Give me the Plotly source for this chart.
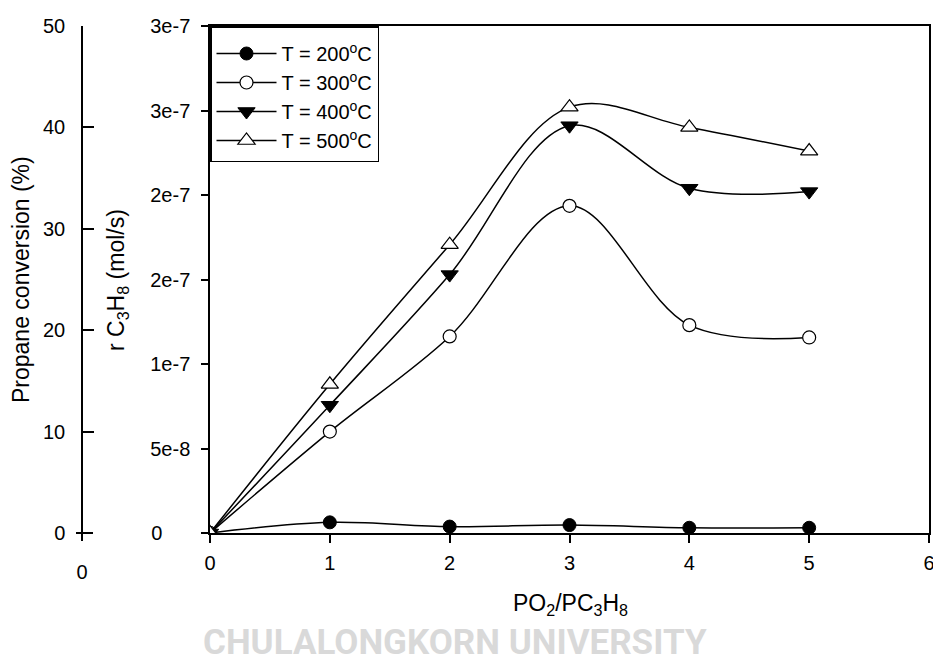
import plotly.graph_objects as go

# PO2/PC3H8 feed ratio
ratio = [0, 1, 2, 3, 4, 5]

# Propane consumption rate r C3H8 (mol/s) at each temperature
rate_200 = [0.0, 6.3e-9, 3.8e-9, 4.7e-9, 3.1e-9, 3.1e-9]
rate_300 = [0.0, 6.0e-8, 1.163e-7, 1.936e-7, 1.23e-7, 1.157e-7]
rate_400 = [0.0, 7.56e-8, 1.529e-7, 2.41e-7, 2.04e-7, 2.02e-7]
rate_500 = [0.0, 8.8e-8, 1.706e-7, 2.52e-7, 2.40e-7, 2.26e-7]

series_names = ["T = 200<sup>o</sup>C", "T = 300<sup>o</sup>C",
                "T = 400<sup>o</sup>C", "T = 500<sup>o</sup>C"]

# Rate axis ticks (labels rounded to one significant figure, left aligned)
rate_tickvals = [0, 5e-8, 1e-7, 1.5e-7, 2e-7, 2.5e-7, 3e-7]
rate_ticktext = ["0\u00a0\u00a0\u00a0\u00a0\u00a0", "5e-8", "1e-7", "2e-7", "2e-7", "3e-7", "3e-7"]

# Conversion axis ticks
conv_tickvals = [0, 10, 20, 30, 40, 50]

x_tickvals = [0, 1, 2, 3, 4, 5, 6]

W, H = 933, 654
FONT = "Liberation Sans, Arial, sans-serif"


def px_x(p):
    return p / W


def px_y(p):
    return 1 - p / H


styles = [
    dict(symbol="circle", color="black", line=dict(color="black", width=1), size=13),
    dict(symbol="circle", color="white", line=dict(color="black", width=1.2), size=13),
    dict(symbol="triangle-down", color="black", line=dict(color="black", width=1), size=15),
    dict(symbol="triangle-up", color="white", line=dict(color="black", width=1.2), size=15),
]

fig = go.Figure()
for name, vals, mk in zip(series_names, [rate_200, rate_300, rate_400, rate_500], styles):
    fig.add_trace(go.Scatter(
        x=ratio, y=vals, name=name, mode="lines+markers",
        line=dict(color="black", width=1.5, shape="spline", smoothing=1.0),
        marker=mk, xaxis="x", yaxis="y",
    ))

# invisible trace so the conversion axis is rendered
fig.add_trace(go.Scatter(x=[None], y=[None], xaxis="x", yaxis="y2",
                         showlegend=False, hoverinfo="skip"))
# short companion x-axis under the conversion axis
fig.add_trace(go.Scatter(x=[None], y=[None], xaxis="x2", yaxis="y2",
                         showlegend=False, hoverinfo="skip"))

tick_font = dict(family=FONT, size=20, color="black")

fig.update_layout(
    width=W, height=H,
    margin=dict(l=0, r=0, t=0, b=0, pad=0, autoexpand=False),
    paper_bgcolor="white", plot_bgcolor="white",
    showlegend=True,
    legend=dict(
        x=px_x(210), y=px_y(26), xanchor="left", yanchor="top",
        bgcolor="white", bordercolor="black", borderwidth=1.5,
        font=dict(family=FONT, size=20, color="black"),
        itemwidth=60, tracegroupgap=0,
        title=dict(text="\u00a0", font=dict(family=FONT, size=5)),
    ),
    xaxis=dict(
        domain=[px_x(210), px_x(929)], range=[0, 6],
        tickvals=x_tickvals, ticks="outside", ticklen=8, tickwidth=1.5,
        tickcolor="black", showline=True, linecolor="black", linewidth=1.5,
        mirror=True, showgrid=False, zeroline=False, tickfont=tick_font,
        anchor="y", ticklabeloverflow="allow", ticklabelstandoff=3,
        automargin=False,
    ),
    yaxis=dict(
        domain=[px_y(533), px_y(26)], range=[0, 3e-7],
        tickvals=rate_tickvals, ticktext=rate_ticktext,
        ticks="outside", ticklen=7, tickwidth=1.5, tickcolor="black",
        showline=True, linecolor="black", linewidth=1.5, mirror=True,
        showgrid=False, zeroline=False, tickfont=tick_font, anchor="x",
        ticklabeloverflow="allow", ticklabelstandoff=7, automargin=False,
    ),
    yaxis2=dict(
        overlaying="y", anchor="free", position=px_x(82), side="left",
        range=[0, 50], tickvals=conv_tickvals,
        ticks="inside", ticklen=11, tickwidth=1.5, tickcolor="black",
        showline=True, linecolor="black", linewidth=1.5,
        showgrid=False, zeroline=False, tickfont=tick_font,
        ticklabeloverflow="allow", ticklabelstandoff=12, automargin=False,
    ),
    xaxis2=dict(
        domain=[px_x(76), px_x(93)], range=[-0.353, 0.647],
        anchor="free", position=px_y(533),
        tickvals=[0], ticks="outside", ticklen=7, tickwidth=1.5,
        tickcolor="black", showline=True, linecolor="black", linewidth=1.5,
        showgrid=False, zeroline=False, tickfont=tick_font,
        ticklabeloverflow="allow", ticklabelstandoff=14, automargin=False,
    ),
)

title_font = dict(family=FONT, size=23, color="black")
fig.add_annotation(text="Propane conversion (%)", textangle=-90,
                   x=px_x(21), y=px_y(280), xref="paper", yref="paper",
                   xanchor="center", yanchor="middle",
                   showarrow=False, font=title_font)
fig.add_annotation(text="r C<sub>3</sub>H<sub>8</sub> (mol/s)", textangle=-90,
                   x=px_x(118), y=px_y(280), xref="paper", yref="paper",
                   xanchor="center", yanchor="middle",
                   showarrow=False, font=title_font)
fig.add_annotation(text="PO<sub>2</sub>/PC<sub>3</sub>H<sub>8</sub>",
                   x=px_x(570), y=px_y(604), xref="paper", yref="paper",
                   xanchor="center", yanchor="middle",
                   showarrow=False, font=title_font)
fig.add_annotation(text="<b>CHULALONGKORN UNIVERSITY</b>",
                   x=px_x(455), y=px_y(620), xref="paper", yref="paper",
                   xanchor="center", yanchor="top", showarrow=False,
                   font=dict(family="Roboto, sans-serif", size=35, color="#d9d9d9"))

fig.write_html("out.html")
